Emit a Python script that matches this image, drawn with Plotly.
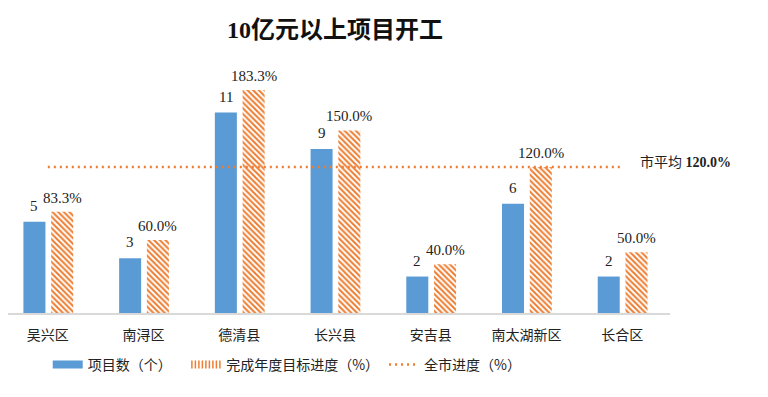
import plotly.graph_objects as go

categories = ["吴兴区", "南浔区", "德清县", "长兴县", "安吉县", "南太湖新区", "长合区"]
project_counts = [5, 3, 11, 9, 2, 6, 2]
progress_pct = [83.3, 60.0, 183.3, 150.0, 40.0, 120.0, 50.0]
city_avg = 120.0

BLUE = "#5B9BD5"
ORANGE = "#ED7D31"
SERIF = "Liberation Serif, Noto Sans CJK SC"
CJK = "Noto Sans CJK SC"

BAR_W = 0.23
BLUE_OFF = -0.255
ORANGE_OFF = 0.035

fig = go.Figure()
fig.add_trace(go.Bar(
    x=categories, y=project_counts, name="项目数（个）",
    marker=dict(color=BLUE, line=dict(width=0)),
    width=BAR_W, offset=BLUE_OFF,
    yaxis="y", showlegend=False,
))
fig.add_trace(go.Bar(
    x=categories, y=progress_pct, name="完成年度目标进度（%）",
    marker=dict(color="white", line=dict(width=0),
                pattern=dict(shape="\\", fgcolor=ORANGE, bgcolor="white",
                             size=4, solidity=0.5, fillmode="replace")),
    width=BAR_W, offset=ORANGE_OFF,
    yaxis="y2", showlegend=False,
))
fig.add_trace(go.Scatter(
    x=categories, y=[city_avg] * len(categories), name="全市进度（%）",
    mode="lines", line=dict(color=ORANGE, width=2.5, dash="2px,4px"),
    yaxis="y2", legendrank=3,
))
# legend-only entries giving wide swatches
fig.add_trace(go.Scatter(
    x=[None], y=[None], name="项目数（个）\u00a0\u00a0\u00a0", mode="lines",
    line=dict(color=BLUE, width=8), legendrank=1, showlegend=True,
))
fig.add_trace(go.Scatter(
    x=[None], y=[None], name="完成年度目标进度（%）", mode="lines",
    line=dict(color=ORANGE, width=8, dash="1.5px,2px"), legendrank=2, showlegend=True,
))

# value labels
for i, (c, v) in enumerate(zip(categories, project_counts)):
    fig.add_annotation(x=i + BLUE_OFF + BAR_W / 2, xref="x", y=v, yref="y",
                       yanchor="middle", yshift=16, text=str(v), showarrow=False,
                       font=dict(family=SERIF, size=15, color="#222"))
for i, (c, v) in enumerate(zip(categories, progress_pct)):
    fig.add_annotation(x=i + ORANGE_OFF + BAR_W / 2, xref="x", y=v, yref="y2",
                       yanchor="middle", yshift=14, text=f"{v:.1f}%", showarrow=False,
                       font=dict(family=SERIF, size=15, color="#222"))

fig.add_annotation(
    x=1.0, xref="paper", xanchor="left", xshift=-32,
    y=city_avg, yref="y2", yanchor="middle", yshift=5,
    text="市平均 <b>120.0%</b>", showarrow=False,
    font=dict(family=SERIF, size=14, color="#222"),
)

fig.update_layout(
    width=760, height=389,
    margin=dict(l=0, r=98, t=52, b=84),
    paper_bgcolor="white", plot_bgcolor="white",
    barmode="overlay",
    title=dict(text="<b>10亿元以上项目开工</b>", x=0.494, xref="paper",
               y=1 - 22 / 389, yref="container", yanchor="middle",
               font=dict(family=SERIF, size=24, color="#111")),
    xaxis=dict(showline=True, linecolor="#D9D9D9", linewidth=1.5,
               range=[-0.416, 6.5], ticklabelstandoff=8,
               showgrid=False, ticks="", tickfont=dict(family=CJK, size=14, color="#222")),
    yaxis=dict(range=[0, 13.88], visible=False, showgrid=False),
    yaxis2=dict(range=[0, 207.9], visible=False, overlaying="y", side="right", showgrid=False),
    legend=dict(orientation="h", x=0.06, xanchor="left", y=-0.205, yanchor="middle",
                font=dict(family=CJK, size=14, color="#222"), traceorder="normal"),
    showlegend=True,
)

fig.write_html("out.html")
